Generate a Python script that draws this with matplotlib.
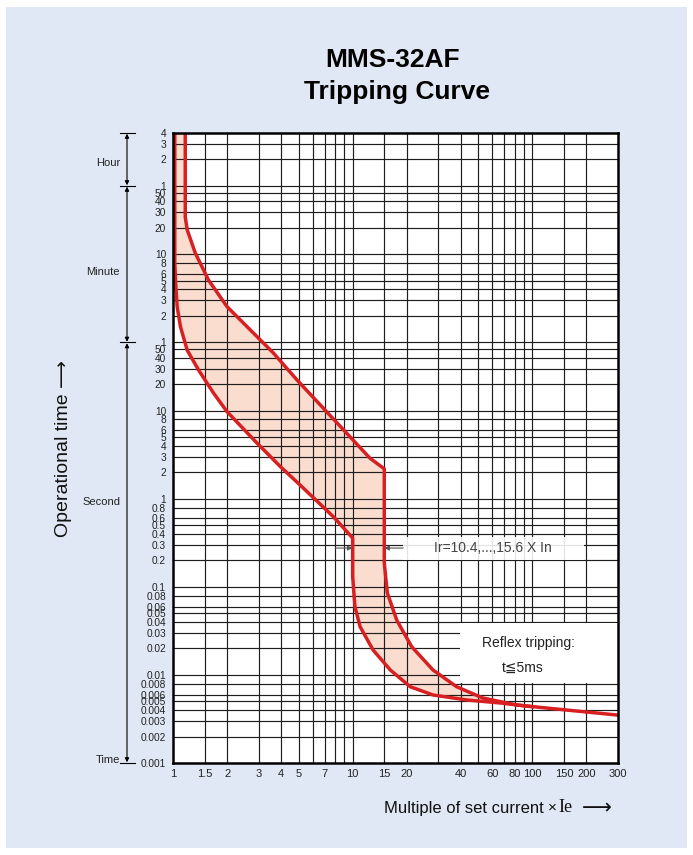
import matplotlib
matplotlib.use("Agg")
import matplotlib.pyplot as plt
import matplotlib.transforms as mtransforms
from matplotlib.patches import Rectangle

# ---------------- data ----------------
# upper (right) limit curve: multiple of Ie, time in seconds
upper_x = [1.17, 1.17, 1.2, 1.33, 1.575, 2.0, 2.8, 3.62, 4.9, 12.5, 15.0, 15.0, 15.6, 17.6, 21.3, 28.0, 37.9, 53.0, 81.7, 155.0, 300.0]
upper_t = [14400, 1600, 1140, 624, 308, 153, 77, 45.6, 22.5, 2.9, 2.2, 0.187, 0.0855, 0.042, 0.021, 0.0114, 0.00736, 0.00548, 0.00456, 0.0040, 0.0035]

# lower (left) limit curve
lower_x = [1.023, 1.023, 1.035, 1.055, 1.10, 1.2, 1.386, 1.68, 2.0, 2.93, 3.96, 5.1, 7.8, 10.0, 10.0, 10.3, 11.0, 13.0, 16.2, 20.9, 28.0, 43.2, 66.3, 100.0]
lower_t = [14400, 481, 280, 153, 90.8, 49, 29.3, 16, 9.8, 4.33, 2.33, 1.44, 0.63, 0.36, 0.131, 0.0597, 0.0354, 0.0192, 0.0114, 0.00736, 0.00593, 0.0052, 0.00481, 0.00436]

# axis ticks
x_tick_values = [1, 1.5, 2, 3, 4, 5, 7, 10, 15, 20, 40, 60, 80, 100, 150, 200, 300]
x_tick_labels = ["1", "1.5", "2", "3", "4", "5", "7", "10", "15", "20", "40", "60", "80", "100", "150", "200", "300"]
x_grid_values = [1.5, 2, 3, 4, 5, 6, 7, 8, 9, 10, 15, 20, 30, 40, 50, 60, 70, 80, 90, 100, 150, 200]

sec_values = [0.001, 0.002, 0.003, 0.004, 0.005, 0.006, 0.008, 0.01, 0.02, 0.03, 0.04, 0.05, 0.06, 0.08,
              0.1, 0.2, 0.3, 0.4, 0.5, 0.6, 0.8, 1, 2, 3, 4, 5, 6, 8, 10, 20, 30, 40, 50]
sec_labels = ["0.001", "0.002", "0.003", "0.004", "0.005", "0.006", "0.008", "0.01", "0.02", "0.03", "0.04",
              "0.05", "0.06", "0.08", "0.1", "0.2", "0.3", "0.4", "0.5", "0.6", "0.8", "1", "2", "3", "4",
              "5", "6", "8", "10", "20", "30", "40", "50"]
min_values = [1, 2, 3, 4, 5, 6, 8, 10, 20, 30, 40, 50]
hour_values = [1, 2, 3, 4]

ir_text = "Ir=10.4,...,15.6 X In"
ir_left, ir_right = 10.0, 15.0

# ---------------- style ----------------
BG = "#DFE8F4"
RED = "#D81F22"
FILL = "#FBDDD0"
SANS = ["Liberation Sans", "DejaVu Sans"]
W, H = 693, 855

def fx(px):
    return px / W

def fy(py):
    return 1 - py / H

fig = plt.figure(figsize=(W / 100, H / 100), dpi=100, facecolor="white")
fig.patches.append(Rectangle((fx(6), fy(848)), fx(681), (848 - 7) / H, transform=fig.transFigure,
                             facecolor=BG, edgecolor="none", zorder=-10))

ax = fig.add_axes([fx(173), fy(763), fx(618 - 173), (763 - 133) / H])
ax.set_xscale("log")
ax.set_yscale("log")
ax.set_xlim(1, 300)
ax.set_ylim(0.001, 14400)
ax.set_facecolor("white")

# grid
y_grid = sec_values[1:] + [m * 60 for m in min_values] + [h * 3600 for h in hour_values[:-1]]
for g in x_grid_values:
    ax.axvline(g, color="#1e1e1e", lw=0.85, zorder=1.5)
for g in y_grid:
    ax.axhline(g, color="#1e1e1e", lw=0.85, zorder=1.5)

# ticks
ax.minorticks_off()
ax.set_xticks(x_tick_values, x_tick_labels, family=SANS, fontsize=8, color="#222222")
y_tick_pos = sec_values + [m * 60 for m in min_values] + [h * 3600 for h in hour_values]
y_tick_lab = sec_labels + [str(m) for m in min_values] + [str(h) for h in hour_values]
ax.set_yticks(y_tick_pos, y_tick_lab, family=SANS, fontsize=7.3, color="#222222")
ax.tick_params(axis="both", length=0, pad=4)
ax.tick_params(axis="y", pad=5)
for s in ax.spines.values():
    s.set_linewidth(1.8)
    s.set_color("black")
    s.set_zorder(5)

# fill and curves
poly_x = upper_x[:-2] + lower_x[::-1]
poly_t = upper_t[:-2] + lower_t[::-1]
ax.fill(poly_x, poly_t, color=FILL, lw=0, zorder=1)
ax.plot(upper_x, upper_t, color=RED, lw=2.5, zorder=3, solid_joinstyle="round")
ax.plot(lower_x, lower_t, color=RED, lw=2.5, zorder=3, solid_joinstyle="round")

# Ir annotation
ax.add_patch(Rectangle((19.1, 0.203), 195 - 19.1, 0.37 - 0.203, facecolor="white", edgecolor="none",
                       alpha=0.88, zorder=3.5))
ax.text(60, 0.277, ir_text, family=SANS, fontsize=10, color="#444444", ha="center", va="center", zorder=4)
ax.annotate("", xy=(ir_left, 0.277), xytext=(8.0, 0.277),
            arrowprops=dict(arrowstyle="-|>", color="#555555", lw=0.8, mutation_scale=7, shrinkA=0, shrinkB=0), zorder=4)
ax.annotate("", xy=(ir_right, 0.277), xytext=(19.1, 0.277),
            arrowprops=dict(arrowstyle="-|>", color="#555555", lw=0.8, mutation_scale=7, shrinkA=0, shrinkB=0), zorder=4)

# Reflex tripping box
ax.add_patch(Rectangle((39.5, 0.0081), 300 - 39.5, 0.039 - 0.0081, facecolor="white", edgecolor="none", zorder=4))
ax.text(95, 0.0231, "Reflex tripping:", family=SANS, fontsize=10, color="#222222", ha="center", va="center", zorder=5)
ax.text(88, 0.0120, "t\u22665ms", family=SANS, fontsize=10,
        color="#222222", ha="center", va="center", zorder=5)

# left bracket (axes-fraction x, data y)
trans = mtransforms.blended_transform_factory(ax.transAxes, ax.transData)
def axfx(px):
    return (px - 173) / (618 - 173)

xb = axfx(127)
for yv in [14400, 3600, 60, 0.001]:
    ax.plot([axfx(120), axfx(135)], [yv, yv], color="black", lw=0.8, transform=trans, clip_on=False)
for y0, y1 in [(14400, 3600), (3600, 60), (60, 0.001)]:
    ax.annotate("", xy=(xb, y0), xytext=(xb, y1), xycoords=trans, textcoords=trans,
                arrowprops=dict(arrowstyle="<|-|>", color="black", lw=0.8, mutation_scale=6,
                                shrinkA=0.5, shrinkB=0.5), annotation_clip=False)
for label, yv in [("Hour", 6500), ("Minute", 380), ("Second", 0.92), ("Time", 0.00108)]:
    ax.text(axfx(120), yv, label, transform=trans, ha="right", va="center", family=SANS,
            fontsize=8, color="#222222")

# titles
fig.text(fx(393), fy(60), "MMS-32AF", ha="center", va="center", family=SANS, fontsize=19, fontweight="bold")
fig.text(fx(397), fy(92), "Tripping Curve", ha="center", va="center", family=SANS, fontsize=19, fontweight="bold")

# axis labels
fig.text(fx(63), fy(448), "Operational time \u27f6", rotation=90, ha="center", va="center",
         family=SANS, fontsize=14, color="#111111")
fig.text(fx(544), fy(808), "Multiple of set current", ha="right", va="center", family=SANS, fontsize=12,
         color="#111111")
fig.text(fx(552), fy(808), "\u00d7", ha="center", va="center", family=SANS, fontsize=11, color="#111111")
fig.text(fx(565), fy(807), "Ie", ha="center", va="center", family=["Liberation Serif", "DejaVu Serif"],
         fontsize=13, color="#111111")
fig.text(fx(597), fy(808), "\u27f6", ha="center", va="center", family=["DejaVu Sans"], fontsize=15,
         color="#111111")

fig.savefig("out.png", dpi=100, facecolor="white")
